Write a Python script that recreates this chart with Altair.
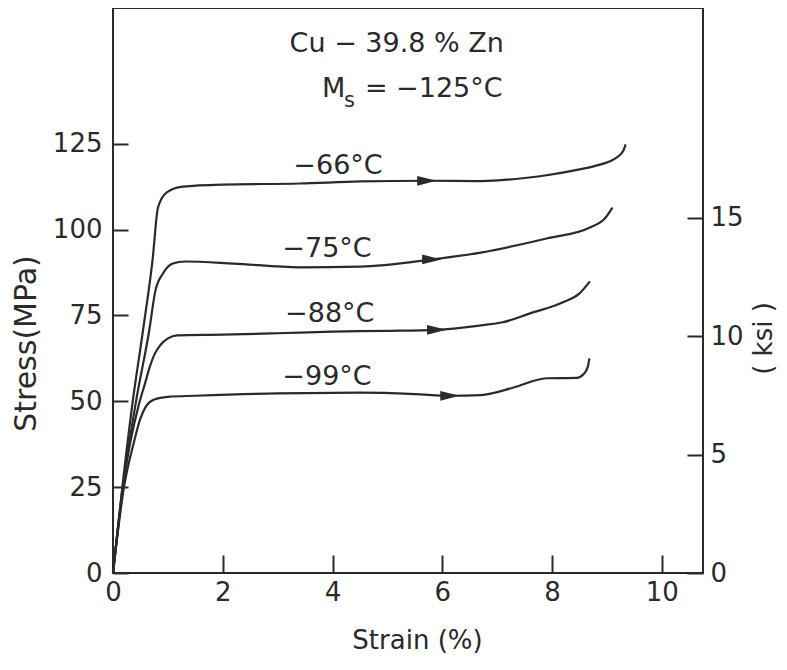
import altair as alt
import pandas as pd

# ---- data ----
s66_strain = [0, 0.17, 0.36, 0.55, 0.72, 0.82, 0.98, 1.27, 2.0, 3.4, 4.5, 5.72, 6.7, 7.5, 7.9, 8.5, 8.8, 9.18, 9.3, 9.34]
s66_stress = [0, 25, 50, 71, 91, 106.4, 110.8, 112.5, 113.1, 113.4, 114.0, 114.2, 114.1, 115.0, 115.8, 117.5, 118.6, 121.0, 123.0, 124.8]

s75_strain = [0, 0.18, 0.42, 0.66, 0.77, 0.91, 1.09, 1.31, 2.2, 3.4, 4.5, 5.81, 6.7, 7.9, 8.69, 8.96, 9.1]
s75_stress = [0, 25, 50, 70.6, 82, 87.2, 90.1, 90.7, 90.1, 89.0, 89.2, 91.3, 93.3, 97.4, 100.6, 103.2, 106.4]

s88_strain = [0, 0.18, 0.47, 0.58, 0.67, 0.76, 0.86, 1.0, 1.17, 2.0, 3.0, 4.0, 5.0, 5.9, 6.7, 7.1, 7.6, 8.2, 8.5, 8.69]
s88_stress = [0, 25, 49, 55, 60, 63.8, 66.3, 68.3, 69.2, 69.4, 69.8, 70.3, 70.5, 70.8, 72.1, 73.0, 75.6, 78.8, 81.4, 84.9]

s99_strain = [0, 0.2, 0.38, 0.5, 0.6, 0.75, 1.0, 1.5, 3.0, 4.5, 5.5, 6.14, 6.7, 7.3, 7.9, 8.45, 8.58, 8.65, 8.68]
s99_stress = [0, 25, 38, 45, 48.5, 50.5, 51.3, 51.6, 52.3, 52.5, 52.1, 51.6, 51.8, 54.0, 56.7, 56.8, 58.0, 60.0, 62.5]

series_names = ["−66°C", "−75°C", "−88°C", "−99°C"]
label_strain = [4.1, 3.9, 3.95, 3.9]
label_stress = [118.6, 94.2, 75.3, 57.0]

arrow_strain = [5.72, 5.81, 5.9, 6.14]
arrow_stress = [114.2, 91.3, 70.8, 51.6]

x_ticks = [0, 2, 4, 6, 8, 10]
y_ticks = [0, 25, 50, 75, 100, 125]
ksi_ticks = [0, 5, 10, 15]

header_text = ["Cu − 39.8 % Zn"]
header_strain = [5.17]
header_stress = [154]

ms_main = ["M"]
ms_sub = ["s"]
ms_rest = ["= −125°C"]
ms_strain = [3.81, 4.21, 4.59]
ms_stress = [141, 137.5, 141]

X_MAX = 10.75
Y_MAX = 164.5
MPA_PER_KSI = 6.895

# ---- build tables ----
rows = []
for name, xs, ys in zip(series_names,
                        [s66_strain, s75_strain, s88_strain, s99_strain],
                        [s66_stress, s75_stress, s88_stress, s99_stress]):
    for i, (a, b) in enumerate(zip(xs, ys)):
        rows.append({"series": name, "strain": a, "stress": b, "order": i})
curves = pd.DataFrame(rows)

labels_df = pd.DataFrame({"text": series_names, "strain": label_strain, "stress": label_stress})
arrows_df = pd.DataFrame({"strain": arrow_strain, "stress": arrow_stress})
ksi_df = pd.DataFrame({"ksi": ksi_ticks})

FONT = "DejaVu Sans"
INK = "#2a2a2a"

xscale = alt.Scale(domain=[0, X_MAX], nice=False, zero=False)
yscale = alt.Scale(domain=[0, Y_MAX], nice=False)

x_axis = alt.Axis(values=x_ticks, offset=-18, tickSize=18, tickWidth=2, tickColor=INK,
                  domain=False, grid=False, labelFont=FONT, labelFontSize=26, labelColor=INK,
                  labelPadding=6, labelFlush=False, labelOverlap=False,
                  title="Strain (%)", titleFont=FONT, titleFontSize=26, titleFontWeight="normal",
                  titleColor=INK, titleX=304, titleY=85, titleAlign="center", titleBaseline="middle")

y_axis = alt.Axis(values=y_ticks, offset=-15, tickSize=15, tickWidth=2, tickColor=INK,
                  domain=False, grid=False, labelFont=FONT, labelFontSize=26, labelColor=INK,
                  labelPadding=11, labelFlush=False, labelOverlap=False,
                  title="Stress(MPa)", titleFont=FONT, titleFontSize=30, titleFontWeight="normal",
                  titleColor=INK, titleX=-102, titleY=335, titleAngle=270,
                  titleAlign="center", titleBaseline="middle")

lines = alt.Chart(curves).mark_line(color=INK, strokeWidth=2.2, interpolate="monotone").encode(
    x=alt.X("strain:Q", scale=xscale, axis=x_axis),
    y=alt.Y("stress:Q", scale=yscale, axis=y_axis),
    detail="series:N",
    order="order:Q",
)

arrows = alt.Chart(arrows_df).mark_point(
    shape="M -1 -0.5 L 1 0 L -1 0.5 Z", filled=True, color=INK, opacity=1, size=380
).encode(x=alt.X("strain:Q", scale=xscale), y=alt.Y("stress:Q", scale=yscale))

labels = alt.Chart(labels_df).mark_text(font=FONT, fontSize=27, color=INK, align="center", baseline="middle").encode(
    x=alt.X("strain:Q", scale=xscale), y=alt.Y("stress:Q", scale=yscale), text="text:N")

header = alt.Chart(pd.DataFrame({"text": header_text, "strain": header_strain, "stress": header_stress})).mark_text(
    font=FONT, fontSize=27, color=INK, align="center", baseline="middle").encode(
    x=alt.X("strain:Q", scale=xscale), y=alt.Y("stress:Q", scale=yscale), text="text:N")

ms_a = alt.Chart(pd.DataFrame({"text": ms_main, "strain": [ms_strain[0]], "stress": [ms_stress[0]]})).mark_text(
    font=FONT, fontSize=27, color=INK, align="left", baseline="middle").encode(
    x=alt.X("strain:Q", scale=xscale), y=alt.Y("stress:Q", scale=yscale), text="text:N")
ms_b = alt.Chart(pd.DataFrame({"text": ms_sub, "strain": [ms_strain[1]], "stress": [ms_stress[1]]})).mark_text(
    font=FONT, fontSize=21, color=INK, align="left", baseline="middle").encode(
    x=alt.X("strain:Q", scale=xscale), y=alt.Y("stress:Q", scale=yscale), text="text:N")
ms_c = alt.Chart(pd.DataFrame({"text": ms_rest, "strain": [ms_strain[2]], "stress": [ms_stress[2]]})).mark_text(
    font=FONT, fontSize=27, color=INK, align="left", baseline="middle").encode(
    x=alt.X("strain:Q", scale=xscale), y=alt.Y("stress:Q", scale=yscale), text="text:N")

main = alt.layer(lines, arrows, labels, header, ms_a, ms_b, ms_c)

ksi_axis = alt.Axis(orient="right", values=ksi_ticks, offset=-16, tickSize=16, tickWidth=2, tickColor=INK,
                    domain=False, grid=False, labelFont=FONT, labelFontSize=26, labelColor=INK,
                    labelPadding=7, labelFlush=False, labelOverlap=False,
                    title="( ksi )", titleFont=FONT, titleFontSize=26, titleFontWeight="normal",
                    titleColor=INK, titleX=76, titleY=330, titleAngle=270,
                    titleAlign="center", titleBaseline="middle")

right = alt.Chart(ksi_df).mark_point(opacity=0).encode(
    y=alt.Y("ksi:Q", scale=alt.Scale(domain=[0, Y_MAX / MPA_PER_KSI], nice=False), axis=ksi_axis)
)

chart = alt.layer(main, right).resolve_scale(y="independent").properties(
    width=590, height=565,
    autosize=alt.AutoSizeParams(type="none"),
    padding={"left": 105, "top": 0, "right": 76, "bottom": 84},
    background="white",
).configure_view(stroke=INK, strokeWidth=2)

chart.save("out.html", embed_options={"renderer": "svg", "actions": False})
